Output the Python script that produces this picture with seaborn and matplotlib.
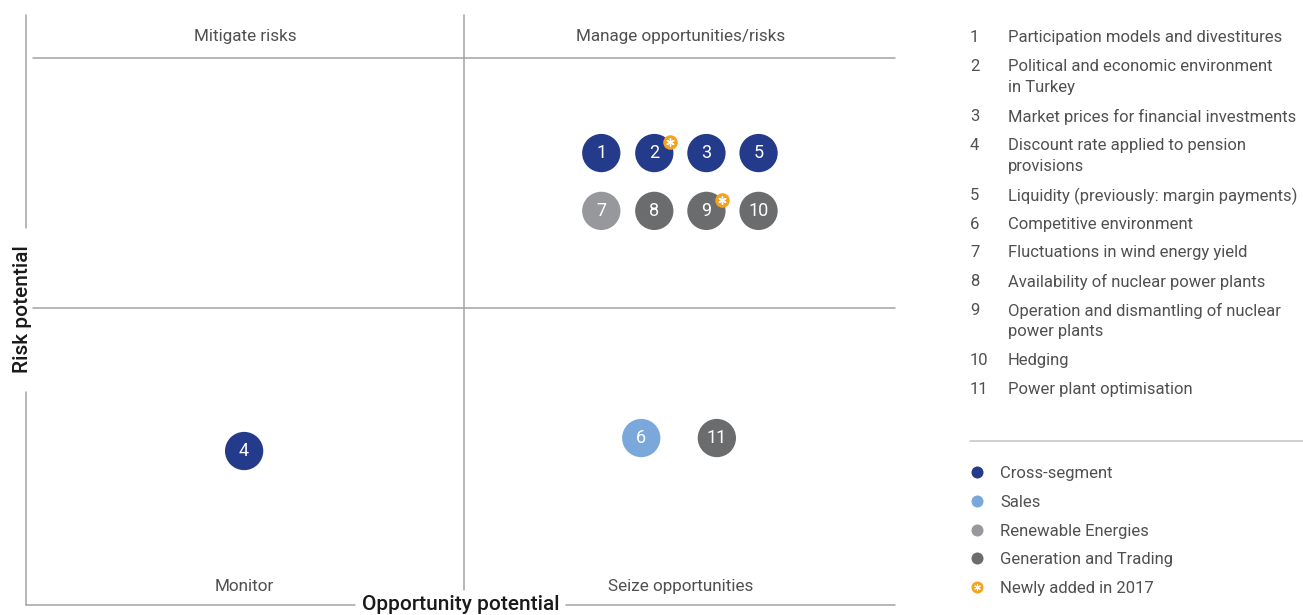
import matplotlib
matplotlib.use("Agg")
import matplotlib.pyplot as plt
import matplotlib.transforms as mtransforms
import seaborn as sns
import pandas as pd

# ---------------- data ----------------
risk_ids = [1, 2, 3, 4, 5, 6, 7, 8, 9, 10, 11]
segments = ["Cross-segment", "Cross-segment", "Cross-segment", "Cross-segment", "Cross-segment",
            "Sales", "Renewable Energies", "Generation and Trading", "Generation and Trading",
            "Generation and Trading", "Generation and Trading"]
opportunity = [66.2, 72.3, 78.3, 25.1, 84.3, 70.8, 66.2, 72.3, 78.3, 84.3, 79.5]
risk = [76.6, 76.6, 76.6, 26.1, 76.6, 28.3, 66.8, 66.8, 66.8, 66.8, 28.3]
newly_added = [2, 9]

risk_names = [
    "Participation models and divestitures",
    "Political and economic environment\nin Turkey",
    "Market prices for financial investments",
    "Discount rate applied to pension\nprovisions",
    "Liquidity (previously: margin payments)",
    "Competitive environment",
    "Fluctuations in wind energy yield",
    "Availability of nuclear power plants",
    "Operation and dismantling of nuclear\npower plants",
    "Hedging",
    "Power plant optimisation",
]
segment_names = ["Cross-segment", "Sales", "Renewable Energies", "Generation and Trading"]
new_label = "Newly added in 2017"
quadrant_labels = ["Mitigate risks", "Manage opportunities/risks", "Monitor", "Seize opportunities"]
x_label = "Opportunity potential"
y_label = "Risk potential"

palette = {"Cross-segment": "#243b8b", "Sales": "#7aa8da",
           "Renewable Energies": "#97989b", "Generation and Trading": "#6b6c6e"}
orange = "#f5a31a"
line_c = "#a3a3a3"
text_c = "#505050"

df = pd.DataFrame({"id": risk_ids, "segment": segments, "x": opportunity, "y": risk})

# ---------------- figure ----------------
sns.set_theme(style="white")
plt.rcParams["font.family"] = ["Roboto", "DejaVu Sans"]

W, H = 1303, 615
fig = plt.figure(figsize=(W / 100, H / 100), dpi=100)
fig.patch.set_facecolor("white")

def fx(px):
    return px / W

def fy(py):
    return 1 - py / H

ax = fig.add_axes([fx(26), fy(605), fx(895) - fx(26), fy(15) - fy(605)])
ax.set_xlim(0, 100)
ax.set_ylim(0, 100)
ax.axis("off")

# frame segments (axes fraction)
tr = ax.transAxes
lw = 1.1
ax.plot([0, 0], [1, 0.639], color=line_c, lw=lw, transform=tr, clip_on=False)
ax.plot([0, 0], [0.361, 0], color=line_c, lw=lw, transform=tr, clip_on=False)
ax.plot([0, 0.379], [0, 0], color=line_c, lw=lw, transform=tr, clip_on=False)
ax.plot([0.621, 1], [0, 0], color=line_c, lw=lw, transform=tr, clip_on=False)
# quadrant lines
ax.plot([50.4, 50.4], [100, 2.5], color=line_c, lw=lw, clip_on=False)
ax.plot([0.8, 100], [50.3, 50.3], color=line_c, lw=lw, clip_on=False)
ax.plot([0.8, 100], [92.7, 92.7], color=line_c, lw=lw, clip_on=False)

ax.text(0.5006, 0.0, x_label, transform=tr, ha="center", va="center",
        fontsize=15, color="#1a1a1a", fontweight="medium")
ax.text(-0.0035, 0.502, y_label, transform=tr, ha="center", va="center", rotation=90,
        fontsize=15, color="#1a1a1a", fontweight="medium")

# quadrant labels
qfs = 12.3
ax.text(25.2, 96.3, quadrant_labels[0], ha="center", va="center", fontsize=qfs, color=text_c)
ax.text(75.3, 96.3, quadrant_labels[1], ha="center", va="center", fontsize=qfs, color=text_c)
ax.text(25.1, 3.1, quadrant_labels[2], ha="center", va="center", fontsize=qfs, color=text_c)
ax.text(75.3, 3.1, quadrant_labels[3], ha="center", va="center", fontsize=qfs, color=text_c)

# points
sns.scatterplot(data=df, x="x", y="y", hue="segment", palette=palette, s=760,
                linewidth=0, legend=False, ax=ax, clip_on=False, zorder=3)
for _, r in df.iterrows():
    ax.text(r["x"], r["y"], str(r["id"]), ha="center", va="center", color="white",
            fontsize=13, zorder=4)

# newly-added badges
badge_tr = mtransforms.offset_copy(ax.transData, fig=fig, x=16, y=11, units="dots")
for rid in newly_added:
    r = df[df["id"] == rid].iloc[0]
    ax.scatter([r["x"]], [r["y"]], s=110, color=orange, transform=badge_tr, zorder=5,
               linewidths=0, clip_on=False)
    ax.scatter([r["x"]], [r["y"]], s=28, marker=(6, 2, 0), color="white", transform=badge_tr,
               zorder=6, linewidths=1.0, clip_on=False)

# ---------------- right panel ----------------
lfs = 12
item_y = [36, 65, 115, 144, 194, 223, 251, 280, 309, 359, 388]
for rid, name, py in zip(risk_ids, risk_names, item_y):
    fig.text(fx(970), fy(py), str(rid), ha="left", va="center_baseline", fontsize=lfs,
             color=text_c)
    for k, line in enumerate(name.split("\n")):
        fig.text(fx(1008), fy(py + 21 * k), line, ha="left", va="center_baseline",
                 fontsize=lfs, color=text_c)

sep = plt.Line2D([fx(970), fx(1303)], [fy(441), fy(441)], transform=fig.transFigure,
                 color="#c4c4c4", lw=1.1)
fig.add_artist(sep)

leg_ax = fig.add_axes([0, 0, 1, 1], facecolor="none")
leg_ax.set_xlim(0, W)
leg_ax.set_ylim(H, 0)
leg_ax.axis("off")
leg_y = [472, 501, 530, 558, 587]
for name, py in zip(segment_names, leg_y[:4]):
    leg_ax.scatter([977], [py], s=75, color=palette[name], linewidths=0)
    leg_ax.text(1000, py, name, ha="left", va="center_baseline", fontsize=lfs, color=text_c)
leg_ax.scatter([977], [leg_y[4]], s=75, color=orange, linewidths=0)
leg_ax.scatter([977], [leg_y[4]], s=18, marker=(6, 2, 0), color="white", linewidths=0.8)
leg_ax.text(1000, leg_y[4], new_label, ha="left", va="center_baseline", fontsize=lfs, color=text_c)

fig.savefig("out.png", dpi=100, facecolor="white")
